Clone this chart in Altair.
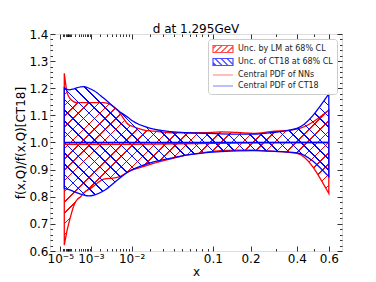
import math
import altair as alt
import pandas as pd

# ---------------- data ----------------
red_x = [3e-5, 5.7e-5, 1.0e-4, 1.7e-4, 2.6e-4, 3.8e-4, 5.4e-4, 9.8e-4, 2.5e-3, 5.3e-3,
         8.9e-3, 0.0103, 0.016, 0.022, 0.037, 0.057, 0.083, 0.117, 0.16, 0.21, 0.275, 0.4, 0.6]
red_hi = [1.255, 1.181, 1.160, 1.150, 1.147, 1.147, 1.147, 1.147, 1.147, 1.120,
          1.065, 1.060, 1.046, 1.042, 1.036, 1.036, 1.036, 1.039, 1.037, 1.034, 1.040, 1.049, 1.120]
red_lo = [0.622, 0.680, 0.726, 0.770, 0.790, 0.800, 0.815, 0.831, 0.865, 0.871,
          0.893, 0.899, 0.912, 0.923, 0.940, 0.954, 0.963, 0.970, 0.972, 0.972, 0.968, 0.960, 0.812]

blue_x = [3e-5, 7.8e-5, 1.7e-4, 3.8e-4, 5.4e-4, 8.5e-4, 1.28e-3, 2.5e-3, 5.3e-3, 8.9e-3,
          0.0103, 0.02, 0.037, 0.057, 0.083, 0.117, 0.16, 0.21, 0.275, 0.4, 0.6]
blue_hi = [1.202, 1.194, 1.198, 1.205, 1.206, 1.200, 1.191, 1.163, 1.120, 1.090,
           1.080, 1.052, 1.040, 1.036, 1.034, 1.032, 1.031, 1.031, 1.036, 1.052, 1.179]
blue_lo = [0.831, 0.826, 0.819, 0.810, 0.806, 0.803, 0.806, 0.822, 0.862, 0.893,
           0.900, 0.925, 0.942, 0.954, 0.962, 0.966, 0.969, 0.970, 0.968, 0.962, 0.874]

cen_x = [3e-5, 1e-3, 1e-2, 0.05, 0.1, 0.2, 0.4, 0.6]
red_cen = [0.994, 0.994, 0.994, 0.995, 0.997, 0.999, 1.0, 1.0]
blue_cen = [1.0, 1.0, 1.0, 1.0, 1.0, 1.0, 1.0, 1.0]

x_major = [1e-5, 1e-3, 1e-2, 0.1, 0.2, 0.4, 0.6]
x_major_labels = ["10⁻⁵", "10⁻³", "10⁻²", "0.1", "0.2", "0.4", "0.6"]
x_minor = [2e-5, 3e-5, 4e-5, 5e-5, 6e-5, 7e-5, 8e-5, 9e-5,
           1e-4, 2e-4, 3e-4, 4e-4, 5e-4, 6e-4, 7e-4, 8e-4, 9e-4,
           2e-3, 3e-3, 4e-3, 5e-3, 6e-3, 7e-3, 8e-3, 9e-3,
           0.02, 0.03, 0.04, 0.05, 0.06, 0.07, 0.08, 0.09, 0.3, 0.5]
y_major = [0.6, 0.7, 0.8, 0.9, 1.0, 1.1, 1.2, 1.3, 1.4]
y_all = [round(0.6 + 0.02 * i, 2) for i in range(41)]

legend_labels = ["Unc. by LM at 68% CL", "Unc. of CT18 at 68% CL",
                 "Central PDF of NNs", "Central PDF of CT18"]

# ---------------- layout / style ----------------
W, H = 292, 217
XMAX, EXP = 0.7, 0.3
YMIN, YMAX = 0.6, 1.4
FONT = "DejaVu Sans"
CLEAR = "rgba(255,255,255,0)"


def px(x):
    return W * (x ** EXP) / (XMAX ** EXP)


def py(y):
    return H * (YMAX - y) / (YMAX - YMIN)


def hatch(xs, his, los, color, direction, spacing=7.6, lw=1.0):
    w = px(max(xs)) - px(min(xs))
    h = py(min(los)) - py(max(his))
    r = h / w
    s = (w + h) / (w * (1 + r * r))
    total = (w + h) / math.sqrt(2)
    period = spacing / total
    half = lw / total / 2
    stops = [alt.GradientStop(offset=0, color=CLEAR)]
    k = 1
    while k * period + half < 1:
        c = k * period
        stops += [alt.GradientStop(offset=round(c - half, 5), color=CLEAR),
                  alt.GradientStop(offset=round(c - half, 5), color=color),
                  alt.GradientStop(offset=round(c + half, 5), color=color),
                  alt.GradientStop(offset=round(c + half, 5), color=CLEAR)]
        k += 1
    stops.append(alt.GradientStop(offset=1, color=CLEAR))
    if direction == "/":
        x1, y1, x2, y2 = 0, 0, s, s * r
    else:
        x1, y1, x2, y2 = 0, 1, s, 1 - s * r
    return alt.Gradient(gradient="linear", stops=stops, x1=x1, y1=y1, x2=x2, y2=y2)


def num(v):
    return ("%.10f" % v).rstrip("0").rstrip(".")


x_major_test = "indexof([" + ",".join(num(v) for v in x_major) + "], datum.value) >= 0"
x_label_expr = ("[" + ",".join("'" + l + "'" for l in x_major_labels) + "][indexof(["
                + ",".join(num(v) for v in x_major) + "], datum.value)]")
y_major_test = "abs(datum.value*10 - round(datum.value*10)) < 0.000001"

xscale = alt.Scale(type="pow", exponent=EXP, domain=[0, XMAX], nice=False, zero=False)
yscale = alt.Scale(domain=[YMIN, YMAX], nice=False, zero=False)

x_label_axis = alt.Axis(values=x_major, labelExpr=x_label_expr, ticks=False, domain=False,
                        grid=False, title="x", labelFontSize=12, titleFontSize=12,
                        labelFont=FONT, titleFont=FONT, labelColor="black",
                        titleColor="black", titleFontWeight="normal", labelPadding=2,
                        titlePadding=2, labelFlush=False, labelOverlap=False)
y_label_axis = alt.Axis(values=y_major, format=".1f", ticks=False, domain=False, grid=False,
                        title="f(x,Q)/f(x,Q)[CT18]", labelFontSize=12, titleFontSize=12,
                        labelFont=FONT, titleFont=FONT, labelColor="black",
                        titleColor="black", titleFontWeight="normal", labelPadding=2,
                        titlePadding=1, labelFlush=False, labelOverlap=False)


def x_tick_axis(orient):
    return alt.Axis(orient=orient, offset=-H, values=x_major + x_minor, labels=False,
                    tickSize={"condition": {"test": x_major_test, "value": 5}, "value": 2.5},
                    tickColor="black", tickWidth=0.8, domain=False, grid=False, title=None)


def y_tick_axis(orient):
    return alt.Axis(orient=orient, offset=-W, values=y_all, labels=False,
                    tickSize={"condition": {"test": y_major_test, "value": 5}, "value": 2.5},
                    tickColor="black", tickWidth=0.8, domain=False, grid=False, title=None)


red_df = pd.DataFrame({"x": red_x, "hi": red_hi, "lo": red_lo})
blue_df = pd.DataFrame({"x": blue_x, "hi": blue_hi, "lo": blue_lo})
cen_df = pd.DataFrame({"x": cen_x, "red": red_cen, "blue": blue_cen})

red_area = alt.Chart(red_df).mark_area(
    fill=hatch(red_x, red_hi, red_lo, "red", "/"), stroke="red", strokeWidth=1.3,
    interpolate="monotone", clip=True
).encode(
    x=alt.X("x:Q", scale=xscale, axis=x_label_axis),
    y=alt.Y("hi:Q", scale=yscale, axis=y_label_axis),
    y2="lo:Q",
)

blue_area = alt.Chart(blue_df).mark_area(
    fill=hatch(blue_x, blue_hi, blue_lo, "blue", "\\"), stroke="blue", strokeWidth=1.3,
    interpolate="monotone", clip=True
).encode(
    x=alt.X("x:Q", scale=xscale, axis=x_tick_axis("top")),
    y=alt.Y("hi:Q", scale=yscale, axis=y_tick_axis("right")),
    y2="lo:Q",
)

red_line = alt.Chart(cen_df).mark_line(color="red", strokeWidth=1.5, clip=True).encode(
    x=alt.X("x:Q", scale=xscale, axis=x_tick_axis("bottom")),
    y=alt.Y("red:Q", scale=yscale, axis=y_tick_axis("left")),
)

blue_line = alt.Chart(cen_df).mark_line(color="blue", strokeWidth=1.5, clip=True).encode(
    x=alt.X("x:Q", scale=xscale, axis=None),
    y=alt.Y("blue:Q", scale=yscale, axis=None),
)

# legend symbols (style only)
red_sym = ("M-1,-0.7H3V0.7H-1Z M-1,-0.1L-0.4,-0.7 M-0.6,0.7L0.8,-0.7 "
           "M0.6,0.7L2,-0.7 M1.8,0.7L3,-0.5")
blue_sym = ("M-1,-0.7H3V0.7H-1Z M-1,0.1L-0.4,0.7 M-0.6,-0.7L0.8,0.7 "
            "M0.6,-0.7L2,0.7 M1.8,-0.7L3,0.5")
line_sym = "M-1,0H3"

leg_df = pd.DataFrame({"series": legend_labels})
legend_layer = alt.Chart(leg_df).mark_point(
    filled=False, strokeWidth=1.2, size=100, clip=True
).encode(
    x=alt.value(-60), y=alt.value(-60),
    color=alt.Color("series:N", scale=alt.Scale(
        domain=legend_labels,
        range=["red", "blue", "rgba(255,40,40,0.7)", "rgba(40,40,255,0.7)"]),
        legend=alt.Legend(title=None, orient="top-right", offset=5, padding=4,
                          labelFont=FONT, labelFontSize=8, labelColor="#222",
                          labelOffset=14, symbolSize=100, symbolStrokeWidth=1.2,
                          rowPadding=1, strokeColor="#cccccc",
                          fillColor="rgba(255,255,255,0.85)", cornerRadius=3,
                          labelLimit=200)),
    shape=alt.Shape("series:N", scale=alt.Scale(
        domain=legend_labels, range=[red_sym, blue_sym, line_sym, line_sym]),
        legend=alt.Legend(title=None)),
)

chart = alt.layer(
    red_area, blue_area, red_line, blue_line, legend_layer
).resolve_axis(
    x="independent", y="independent"
).properties(
    width=W, height=H,
    title=alt.Title("d at 1.295GeV", fontSize=12, font=FONT, fontWeight="normal",
                    color="black", offset=6, dy=14, anchor="middle"),
).configure_view(
    stroke="black", strokeWidth=1
).configure(
    background="white", padding={"left": 6, "right": 2, "top": 15, "bottom": 2}
)

chart.save("out.html", embed_options={"renderer": "svg", "actions": False})
